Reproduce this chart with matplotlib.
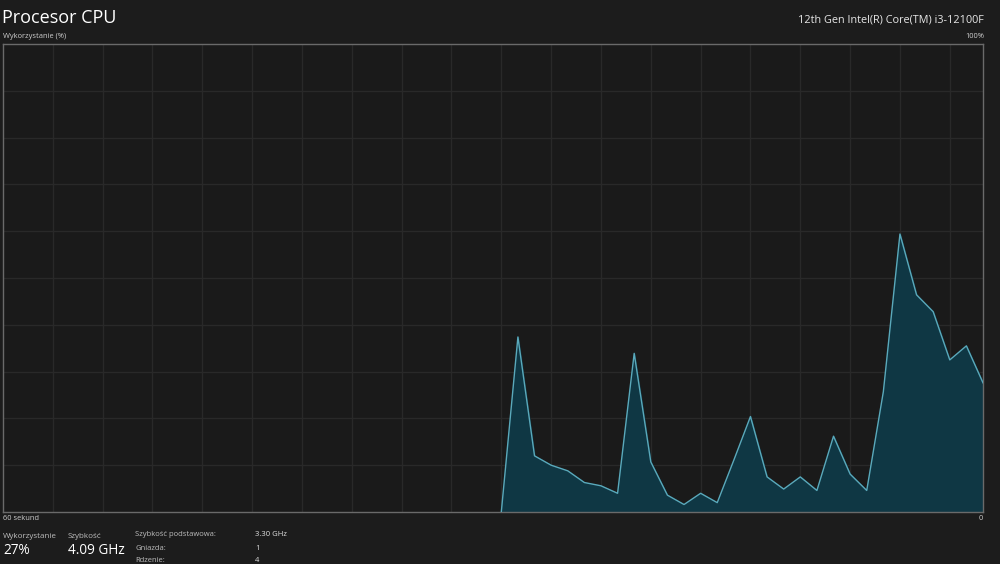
import numpy as np
from matplotlib import pyplot as plt

# CPU usage (%) for the last 30 of the 60 seconds shown
start_sec = 30
usage = [0.0, 37.4, 12.0, 10.0, 8.8, 6.3, 5.6, 4.0, 33.9, 10.7,
         3.6, 1.6, 4.0, 2.0, 11.1, 20.4, 7.5, 4.9, 7.5, 4.6,
         16.2, 8.1, 4.6, 25.7, 59.4, 46.4, 42.8, 32.5, 35.5, 27.6]

title = 'Procesor CPU'
cpu_name = '12th Gen Intel(R) Core(TM) i3-12100F'
stats_left = [('Wykorzystanie', '27%'), ('Szybkość', '4.09 GHz')]
stats_right = [('Szybkość podstawowa:', '3.30 GHz'),
               ('Gniazda:', '1'),
               ('Rdzenie:', '4')]

plt.rcParams['font.family'] = ['Open Sans', 'DejaVu Sans']

bg = '#1c1c1c'
grid_c = '#292929'
border_c = '#6a6a6a'
line_c = '#5aa9bb'
fill_c = '#0f3744'
txt_c = '#cfcfcf'

fig = plt.figure(figsize=(10, 5.64), dpi=100, facecolor=bg)
ax = fig.add_axes([0.003, (564 - 512) / 564, 0.98, 468 / 564])
ax.set_facecolor('#1a1a1a')

x = np.arange(start_sec, start_sec + len(usage))
ax.fill_between(x, usage, 0, color=fill_c, zorder=2)
ax.plot(x, usage, color=line_c, lw=1.0, zorder=3)

ax.set_xlim(0, 59)
ax.set_ylim(0, 100)
ax.set_xticks(np.arange(3, 59, 3))
ax.set_yticks(np.arange(10, 100, 10))
ax.grid(True, color=grid_c, lw=1.0, zorder=1)
ax.tick_params(left=False, bottom=False, labelleft=False, labelbottom=False)
for s in ax.spines.values():
    s.set_color(border_c)
    s.set_linewidth(1.0)

fig.text(0.002, 1 - 18 / 564, title, color='white', fontsize=13, va='center', ha='left')
fig.text(0.984, 1 - 20 / 564, cpu_name, color='#e6e6e6', fontsize=7.8, va='center', ha='right')
fig.text(0.003, 1 - 37 / 564, 'Wykorzystanie (%)', color=txt_c, fontsize=5.4, va='center', ha='left')
fig.text(0.984, 1 - 37 / 564, '100%', color=txt_c, fontsize=5.4, va='center', ha='right')
fig.text(0.003, 1 - 519 / 564, '60 sekund', color=txt_c, fontsize=5.4, va='center', ha='left')
fig.text(0.983, 1 - 519 / 564, '0', color=txt_c, fontsize=5.4, va='center', ha='right')

for (lab, val), xp in zip(stats_left, [3, 68]):
    fig.text(xp / 1000, 1 - 536 / 564, lab, color='#bdbdbd', fontsize=5.8, va='center', ha='left')
    fig.text(xp / 1000, 1 - 551 / 564, val, color='white', fontsize=9.8, va='center', ha='left')

for i, (lab, val) in enumerate(stats_right):
    yp = 1 - (535 + i * 13) / 564
    fig.text(0.135, yp, lab, color='#bdbdbd', fontsize=5.5, va='center', ha='left')
    fig.text(0.255, yp, val, color='#e0e0e0', fontsize=5.5, va='center', ha='left')

fig.savefig('out.png', dpi=100, facecolor=bg)
